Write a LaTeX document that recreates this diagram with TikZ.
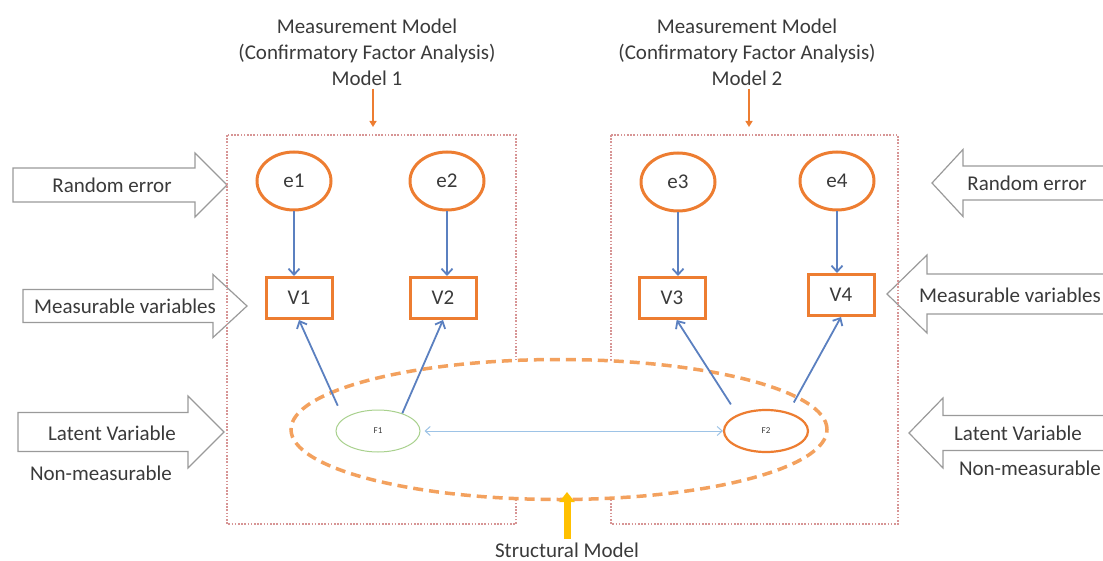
\documentclass[tikz,border=0pt]{standalone}
\usepackage{fontspec}
\setmainfont{Carlito}
\usepackage{xcolor}
\usepackage{tikz}
\usetikzlibrary{arrows.meta, shapes.geometric}
\definecolor{myorange}{HTML}{ED7D31}
\definecolor{mydashorange}{HTML}{F3A15E}
\definecolor{myblue}{HTML}{5B80C0}
\definecolor{mylightblue}{HTML}{9DC3E6}
\definecolor{mygreen}{HTML}{A9D18E}
\definecolor{myborder}{HTML}{D79595}
\definecolor{mygray}{HTML}{9A9A9A}
\definecolor{myyellow}{HTML}{FFC000}
\definecolor{mytext}{HTML}{3A3A3A}
\tikzset{
errornode/.style={
ellipse,
draw=myorange,
line width=3pt,
minimum width=74pt,
minimum height=58pt,
inner sep=0pt,
text=mytext
},
varbox/.style={
rectangle,
draw=myorange,
line width=3pt,
minimum width=66pt,
minimum height=41pt,
inner sep=0pt,
text=mytext
},
factorGreen/.style={
ellipse,
draw=mygreen,
line width=1pt,
minimum width=84pt,
minimum height=42pt,
inner sep=0pt,
font=\fontsize{9}{10}\selectfont,
text=mytext
},
factorOrange/.style={
ellipse,
draw=myorange,
line width=2.2pt,
minimum width=84pt,
minimum height=42pt,
inner sep=0pt,
font=\fontsize{9}{10}\selectfont,
text=mytext
},
structural/.style={
ellipse,
draw=mydashorange,
fill=white,
line width=3.5pt,
dash pattern=on 10pt off 6pt,
minimum width=536pt,
minimum height=140pt,
inner sep=0pt
},
modelbox/.style={
draw=myborder,
line width=1.2pt,
dash pattern=on 1.6pt off 1.6pt
},
blockarrow/.style={
draw=mygray,
fill=white,
line width=1.2pt,
line join=miter
},
labelbox/.style={
text=mytext,
inner sep=0pt
},
arrow/.style={
-{Straight Barb[length=6pt 0 0,width=11pt 0 0]},
line width=1.8pt,
draw=myblue
},
corrarrow/.style={
{Straight Barb[length=5pt 0 0,width=9pt 0 0]}-{Straight Barb[length=5pt 0 0,width=9pt 0 0]},
line width=1pt,
draw=mylightblue
},
titlearrow/.style={
-{Triangle[length=6pt 0 0,width=7pt 0 0]},
line width=2.5pt,
draw=myorange
},
yellowarrow/.style={
-{Triangle[length=10pt 0 0,width=15pt 0 0]},
line width=7pt,
draw=myyellow
}
}

\begin{document}
\begin{tikzpicture}[x=1pt, y=-1pt, font=\fontsize{21}{26}\selectfont]
\useasboundingbox (0,0) rectangle (1103,561);

% side arrows: tail/neck/tip/y/body/head
\foreach \tail/\neck/\tip/\y/\b/\h in {13/195/227/185/17/32, 23/213/247/306/16.5/31.5,
    18/188/224/432/19.5/36, 1110/963/932/183/17/33.5, 1110/927/887/294/20/39,
    1110/943/909/433/17.5/35} {
  \draw[blockarrow] (\tail,\y-\b) -- (\neck,\y-\b) -- (\neck,\y-\h) -- (\tip,\y)
    -- (\neck,\y+\h) -- (\neck,\y+\b) -- (\tail,\y+\b) -- cycle;
}
\node[labelbox] (reL) at (112,185) {Random error};
\node[labelbox] (mvL) at (125,306) {Measurable variables};
\node[labelbox] (lvL) at (112,433) {Latent Variable};
\node[labelbox] (nmL) at (101,473) {Non-measurable};
\node[labelbox] (reR) at (1027,183) {Random error};
\node[labelbox] (mvR) at (1010,295) {Measurable variables};
\node[labelbox] (lvR) at (1018,433) {Latent Variable};
\node[labelbox] (nmR) at (1030,468) {Non-measurable};

% measurement models
\draw[modelbox] (227,135) rectangle (516,524);
\draw[modelbox] (611,135) rectangle (898,524);
\node[labelbox, align=center] (t1) at (367,52)
  {Measurement Model\\(Confirmatory Factor Analysis)\\Model 1};
\node[labelbox, align=center] (t2) at (747,52)
  {Measurement Model\\(Confirmatory Factor Analysis)\\Model 2};
\coordinate (a1) at (373,127);
\coordinate (a2) at (749,127);
\draw[titlearrow, shorten <=3pt] (t1.south -| a1) -- (a1);
\draw[titlearrow, shorten <=3pt] (t2.south -| a2) -- (a2);

% structural model
\node[structural] (sm) at (559,429.5) {};
\node[factorGreen] (F1) at (378,431) {F1};
\node[factorOrange] (F2) at (766,431) {F2};
\draw[corrarrow, shorten <=4pt] (F1) -- (F2);
\node[labelbox, anchor=base] (smlabel) at (567,557) {Structural Model};
\coordinate (smtail) at (567,539);
\coordinate (smtip) at (567,492);
\draw[yellowarrow] (smtail) -- (smtip);

% errors and indicators
\node[errornode] (e1) at (294,181) {e1};
\node[errornode] (e2) at (447,181) {e2};
\node[errornode] (e3) at (678,182) {e3};
\node[errornode] (e4) at (837,181) {e4};
\node[varbox] (V1) at (299,298) {V1};
\node[varbox] (V2) at (443,298) {V2};
\node[varbox] (V3) at (672,298) {V3};
\node[varbox] (V4) at (841,295) {V4};
\foreach \i in {1,...,4} {
  \draw[arrow] (e\i.south) -- (e\i.south |- V\i.north);
}

% loadings
\draw[arrow, shorten <=14pt] (F1.160) -- (V1.south);
\draw[arrow] (F1.36) -- (V2.south);
\draw[arrow, shorten <=12pt] (F2.150) -- (V3.-78);
\draw[arrow, shorten <=11pt] (F2.40) -- (V4.south);

\end{tikzpicture}
\end{document}
